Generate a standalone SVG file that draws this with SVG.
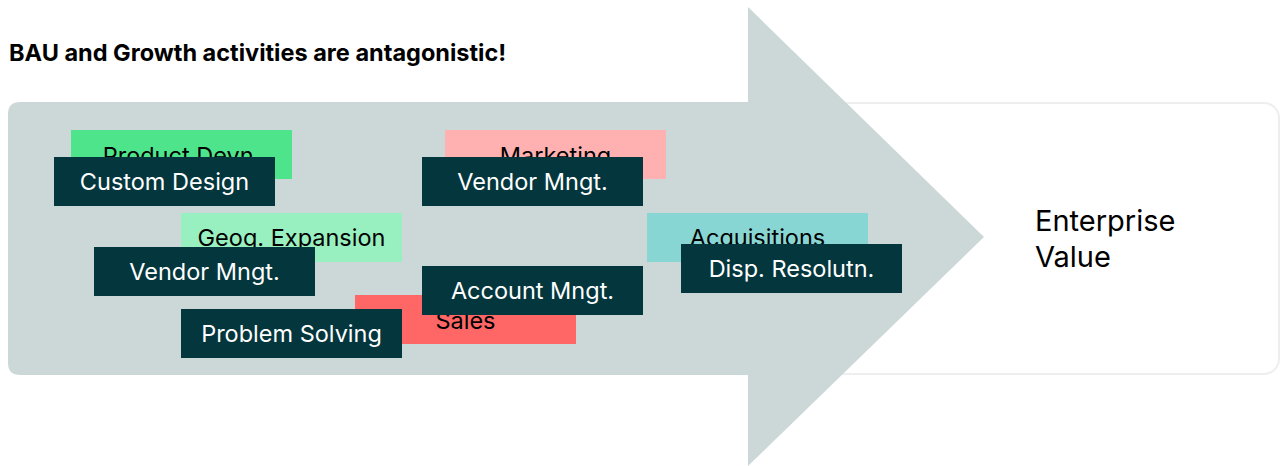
<svg xmlns="http://www.w3.org/2000/svg" width="1280" height="466" viewBox="0 0 1280 466">
<style>
  .lbl{font-family:Inter,"Noto Sans","Liberation Sans",sans-serif;font-size:23.5px;text-anchor:middle}
  .dk rect{fill:#03363d}
  .dk text{fill:#ffffff}
  .lt text{fill:#000000}
  .ev{font-family:Inter,"Noto Sans","Liberation Sans",sans-serif;font-size:29px;fill:#000}
</style>
<rect width="1280" height="466" fill="#ffffff"/>
<g id="value-box">
  <rect x="60" y="103" width="1219" height="271" rx="15" fill="#ffffff" stroke="#eeeeee" stroke-width="2"/>
  <text class="ev" x="1035" y="231">Enterprise</text>
  <text class="ev" x="1035" y="267">Value</text>
</g>
<g id="arrow">
  <path d="M20 102 H748 V7 L984 237 L748 466 V375 H20 Q8 375 8 363 V114 Q8 102 20 102 Z" fill="#ccd8d8"/>
</g>
<text id="title" x="9" y="61" font-family="Inter,'Noto Sans','Liberation Sans',sans-serif" font-size="23.5" font-weight="bold" fill="#000">BAU and Growth activities are antagonistic!</text>
<g id="connectors"></g>
<g id="product-devn" class="lt"><rect x="71" y="130" width="221" height="49" fill="#4ee48b"/><text class="lbl" x="181.5" y="164">Product Devn.</text></g>
<g id="custom-design" class="dk"><rect x="54" y="157" width="221" height="49"/><text class="lbl" x="164.5" y="190">Custom Design</text></g>
<g id="marketing" class="lt"><rect x="445" y="130" width="221" height="49" fill="#ffb0b0"/><text class="lbl" x="555.5" y="164">Marketing</text></g>
<g id="vendor-mngt-2" class="dk"><rect x="422" y="157" width="221" height="49"/><text class="lbl" x="532.5" y="190">Vendor Mngt.</text></g>
<g id="geog-expansion" class="lt"><rect x="181" y="213" width="221" height="49" fill="#98f0c0"/><text class="lbl" x="291.5" y="246">Geog. Expansion</text></g>
<g id="acquisitions" class="lt"><rect x="647" y="213" width="221" height="49" fill="#88d6d4"/><text class="lbl" x="757.5" y="246">Acquisitions</text></g>
<g id="vendor-mngt-1" class="dk"><rect x="94" y="247" width="221" height="49"/><text class="lbl" x="204.5" y="280">Vendor Mngt.</text></g>
<g id="disp-resolutn" class="dk"><rect x="681" y="244" width="221" height="49"/><text class="lbl" x="791.5" y="277">Disp. Resolutn.</text></g>
<g id="sales" class="lt"><rect x="355" y="295" width="221" height="49" fill="#ff6666"/><text class="lbl" x="465.5" y="329">Sales</text></g>
<g id="account-mngt" class="dk"><rect x="422" y="266" width="221" height="49"/><text class="lbl" x="532.5" y="299">Account Mngt.</text></g>
<g id="problem-solving" class="dk"><rect x="181" y="309" width="221" height="49"/><text class="lbl" x="291.5" y="342">Problem Solving</text></g>
</svg>
